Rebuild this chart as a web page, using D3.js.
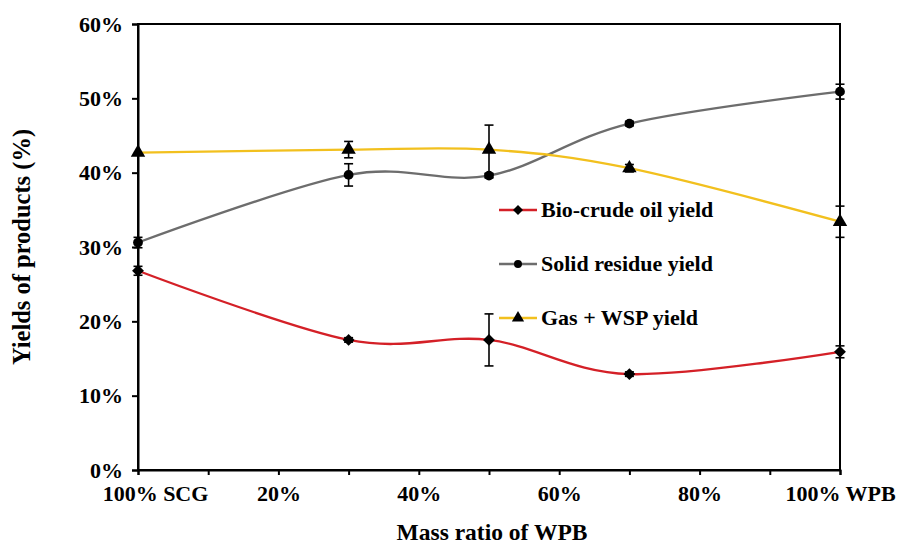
<!DOCTYPE html>
<html><head><meta charset="utf-8">
<script src="https://cdn.jsdelivr.net/npm/d3@7"></script>
<style>body{margin:0;background:#fff}svg{display:block}text{font-family:"Liberation Serif","Times New Roman",serif;font-weight:bold}</style>
</head><body>
<svg id="c" width="900" height="550"></svg>
<script>
const xValues = [0, 30, 50, 70, 100];
const bioCrude = [26.8, 17.5, 17.5, 12.9, 15.9];
const bioErr   = [0.6, 0.3, 3.5, 0.3, 0.8];
const solidRes = [30.6, 39.7, 39.6, 46.6, 50.9];
const solidErr = [0.7, 1.5, 0.3, 0.3, 1.0];
const gasWsp   = [42.7, 43.1, 43.1, 40.6, 33.4];
const gasErr   = [0.2, 1.1, 3.3, 0.5, 2.1];
const yTicks = [0, 10, 20, 30, 40, 50, 60];
const xTicks = [0, 10, 20, 30, 40, 50, 60, 70, 80, 90, 100];
const xTickLabels = {0: "100% SCG", 20: "20%", 40: "40%", 60: "60%", 80: "80%", 100: "100% WPB"};
const seriesNames = ["Bio-crude oil yield", "Solid residue yield", "Gas + WSP yield"];

const svg = d3.select("#c");
const m = {l: 138, r: 60, t: 24, b: 80};
const W = 900, H = 550;
const x = d3.scaleLinear().domain([0, 100]).range([m.l, W - m.r]);
const y = d3.scaleLinear().domain([0, 60]).range([H - m.b, m.t]);

// frame
svg.append("rect").attr("x", x(0)).attr("y", y(60)).attr("width", x(100) - x(0)).attr("height", y(0) - y(60))
  .attr("fill", "none").attr("stroke", "#000").attr("stroke-width", 2);

const yAxis = svg.append("g").attr("transform", `translate(${x(0)},0)`)
  .call(d3.axisLeft(y).tickValues(yTicks).tickSize(6).tickPadding(9).tickFormat(d => d + "%"));
const xAxis = svg.append("g").attr("transform", `translate(0,${y(0)})`)
  .call(d3.axisBottom(x).tickValues(xTicks).tickSize(5).tickPadding(10).tickFormat(d => xTickLabels[d] || ""));
[yAxis, xAxis].forEach(g => {
  g.select(".domain").attr("stroke", "#000").attr("stroke-width", 2);
  g.selectAll(".tick line").attr("stroke", "#000").attr("stroke-width", 2);
  g.selectAll("text").attr("fill", "#000").style("font-size", "22px").style("font-family", '"Liberation Serif",serif').style("font-weight", "bold");
});
xAxis.selectAll(".tick").filter(d => d === 0).select("text").attr("dx", 17);

// axis titles
svg.append("text").attr("x", (x(0) + x(100)) / 2 + 3).attr("y", 540).attr("text-anchor", "middle")
  .style("font-size", "23.5px").text("Mass ratio of WPB");
svg.append("text").attr("transform", `translate(30,${(y(0) + y(60)) / 2}) rotate(-90)`).attr("text-anchor", "middle")
  .style("font-size", "24.5px").text("Yields of products (%)");

const series = [
  {name: seriesNames[0], vals: bioCrude, err: bioErr, color: "#d42027", sym: d3.symbolSquare, rot: 45},
  {name: seriesNames[1], vals: solidRes, err: solidErr, color: "#6d6d6d", sym: d3.symbolCircle, rot: 0},
  {name: seriesNames[2], vals: gasWsp, err: gasErr, color: "#f2c01e", sym: d3.symbolTriangle, rot: 0}
];
const line = d3.line().x(d => x(d[0])).y(d => y(d[1])).curve(d3.curveCatmullRom.alpha(0));

series.forEach(s => {
  const pts = xValues.map((xv, i) => [xv, s.vals[i], s.err[i]]);
  svg.append("path").datum(pts).attr("d", line).attr("fill", "none").attr("stroke", s.color).attr("stroke-width", 2.3);
});
series.forEach(s => {
  const pts = xValues.map((xv, i) => [xv, s.vals[i], s.err[i]]);
  const g = svg.append("g");
  pts.forEach(p => {
    if (p[2] > 0.25) {
      g.append("line").attr("x1", x(p[0])).attr("x2", x(p[0])).attr("y1", y(p[1] - p[2])).attr("y2", y(p[1] + p[2])).attr("stroke", "#000").attr("stroke-width", 1.6);
      [p[1] - p[2], p[1] + p[2]].forEach(v => g.append("line").attr("x1", x(p[0]) - 4.5).attr("x2", x(p[0]) + 4.5).attr("y1", y(v)).attr("y2", y(v)).attr("stroke", "#000").attr("stroke-width", 1.6));
    }
    const size = s.sym === d3.symbolTriangle ? 90 : (s.sym === d3.symbolSquare ? 70 : 75);
    g.append("path").attr("d", d3.symbol().type(s.sym).size(size)())
      .attr("transform", `translate(${x(p[0])},${y(p[1])}) rotate(${s.rot})`).attr("fill", "#000");
  });
});

// legend
const lg = svg.append("g");
series.forEach((s, i) => {
  const ly = 210 + i * 54;
  lg.append("line").attr("x1", 499).attr("x2", 537).attr("y1", ly).attr("y2", ly).attr("stroke", s.color).attr("stroke-width", 2.3);
  const size = s.sym === d3.symbolTriangle ? 65 : (s.sym === d3.symbolSquare ? 50 : 50);
  lg.append("path").attr("d", d3.symbol().type(s.sym).size(size)()).attr("transform", `translate(518,${ly}) rotate(${s.rot})`).attr("fill", "#000");
  lg.append("text").attr("x", 541).attr("y", ly + 7).style("font-size", "22px").text(s.name);
});
</script>
</body></html>
